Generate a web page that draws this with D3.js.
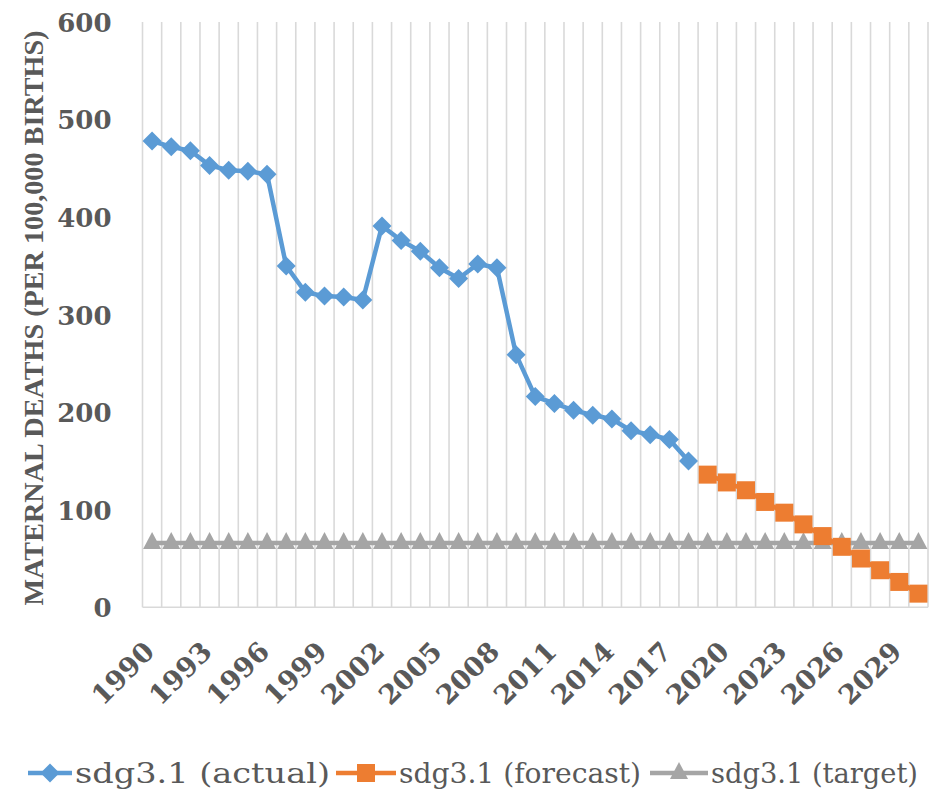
<!DOCTYPE html>
<html>
<head>
<meta charset="utf-8">
<script src="https://cdn.jsdelivr.net/npm/d3@7"></script>
<style>
  html, body { margin: 0; padding: 0; background: #ffffff; }
  svg { display: block; }
</style>
</head>
<body>
<svg id="chart" width="938" height="794"></svg>
<script>
// ---- data ----
const years = d3.range(1990, 2031);
const actualYears = d3.range(1990, 2019);
const actualValues = [478, 472, 468, 453, 448, 447, 444, 350, 323, 319, 318, 315,
  391, 376, 365, 348, 337, 352, 348, 259, 216, 209, 202, 197, 193, 181, 177, 172, 150];
const forecastYears = d3.range(2019, 2031);
const forecastValues = [136, 128, 120, 108, 97, 85, 73, 62, 50, 38, 26, 14];
const targetYears = d3.range(1990, 2031);
const targetValues = targetYears.map(() => 66);
const yTicks = [0, 100, 200, 300, 400, 500, 600];
const xTickLabels = d3.range(1990, 2031, 3);
const seriesNames = ["sdg3.1 (actual)", "sdg3.1 (forecast)", "sdg3.1 (target)"];
const seriesColors = ["#5b9bd5", "#ed7d31", "#a5a5a5"];
const yTitle = "MATERNAL DEATHS (PER 100,000 BIRTHS)";

// ---- layout ----
const svg = d3.select("#chart");
const plot = { left: 142.5, right: 928, top: 22, bottom: 607.3 };
const x = d3.scaleBand().domain(years).range([plot.left, plot.right]).padding(0);
const cx = d => x(d) + x.bandwidth() / 2;
const y = d3.scaleLinear().domain([0, 600]).range([plot.bottom, plot.top]);
const textColor = "#595959";
const gridColor = "#d9d9d9";
const serif = "'DejaVu Serif', 'Liberation Serif', serif";

// marker shapes
const markers = {
  diamond: "M0,-9.5L9.5,0L0,9.5L-9.5,0Z",
  square: "M-9,-9H9V9H-9Z",
  triangle: "M0,-11L9,6H-9Z"
};
const markerKeys = ["diamond", "square", "triangle"];

// vertical gridlines at category boundaries
const bounds = years.map(d => x(d)).concat([plot.right]);
svg.append("g").selectAll("line").data(bounds).join("line")
  .attr("x1", d => d).attr("x2", d => d)
  .attr("y1", plot.top).attr("y2", plot.bottom)
  .attr("stroke", gridColor).attr("stroke-width", 1.6);

// bottom axis line
svg.append("line")
  .attr("x1", plot.left).attr("x2", plot.right)
  .attr("y1", plot.bottom).attr("y2", plot.bottom)
  .attr("stroke", gridColor).attr("stroke-width", 1.6);

// y axis
const yAxis = svg.append("g")
  .attr("transform", `translate(${plot.left},0)`)
  .call(d3.axisLeft(y).tickValues(yTicks).tickSize(0).tickPadding(31).tickFormat(d3.format("d")));
yAxis.select(".domain").remove();
yAxis.selectAll("text")
  .attr("fill", textColor).attr("font-family", serif)
  .attr("font-weight", "bold").attr("font-size", 26).attr("dy", "0.36em");

// x axis labels
const xAxis = svg.append("g")
  .attr("transform", `translate(0,${plot.bottom})`)
  .call(d3.axisBottom(x).tickValues(xTickLabels).tickSize(0).tickFormat(d3.format("d")));
xAxis.select(".domain").remove();
xAxis.selectAll("text")
  .attr("fill", textColor).attr("font-family", serif)
  .attr("font-weight", "bold").attr("font-size", 27)
  .attr("text-anchor", "end")
  .attr("x", 0).attr("y", 0).attr("dy", 0)
  .attr("transform", "translate(4,46) rotate(-45)");

// y title
svg.append("text")
  .attr("transform", "translate(43,318) rotate(-90)")
  .attr("text-anchor", "middle")
  .attr("fill", textColor).attr("font-family", "'Liberation Serif', 'DejaVu Serif', serif")
  .attr("font-weight", "bold").attr("font-size", 28)
  .attr("textLength", 575).attr("lengthAdjust", "spacingAndGlyphs")
  .text(yTitle);

// series
const line = d3.line().x(d => cx(d[0])).y(d => y(d[1]));
function drawSeries(xs, vs, color, key) {
  const data = xs.map((d, i) => [d, vs[i]]);
  svg.append("path").datum(data)
    .attr("d", line).attr("fill", "none")
    .attr("stroke", color).attr("stroke-width", 4.5).attr("stroke-linejoin", "round");
  svg.append("g").selectAll("path").data(data).join("path")
    .attr("transform", d => `translate(${cx(d[0])},${y(d[1])})`)
    .attr("d", markers[key])
    .attr("fill", color);
}
drawSeries(targetYears, targetValues, seriesColors[2], "triangle");
drawSeries(actualYears, actualValues, seriesColors[0], "diamond");
drawSeries(forecastYears, forecastValues, seriesColors[1], "square");

// legend
const legendY = 773;
const legendItems = [
  { x0: 28, x1: 72, tx: 75, tw: 255 },
  { x0: 336, x1: 396, tx: 399, tw: 242 },
  { x0: 650, x1: 708, tx: 711, tw: 207 }
];
legendItems.forEach((it, i) => {
  const g = svg.append("g");
  g.append("line").attr("x1", it.x0).attr("x2", it.x1)
    .attr("y1", legendY).attr("y2", legendY)
    .attr("stroke", seriesColors[i]).attr("stroke-width", 4.5);
  g.append("path")
    .attr("transform", `translate(${(it.x0 + it.x1) / 2},${legendY})`)
    .attr("d", markers[markerKeys[i]])
    .attr("fill", seriesColors[i]);
  g.append("text")
    .attr("x", it.tx).attr("y", legendY).attr("dy", "0.35em")
    .attr("fill", textColor)
    .attr("font-family", "'DejaVu Serif Condensed', 'DejaVu Serif', serif")
    .attr("font-size", 28)
    .attr("textLength", it.tw).attr("lengthAdjust", "spacingAndGlyphs")
    .text(seriesNames[i]);
});
</script>
</body>
</html>
